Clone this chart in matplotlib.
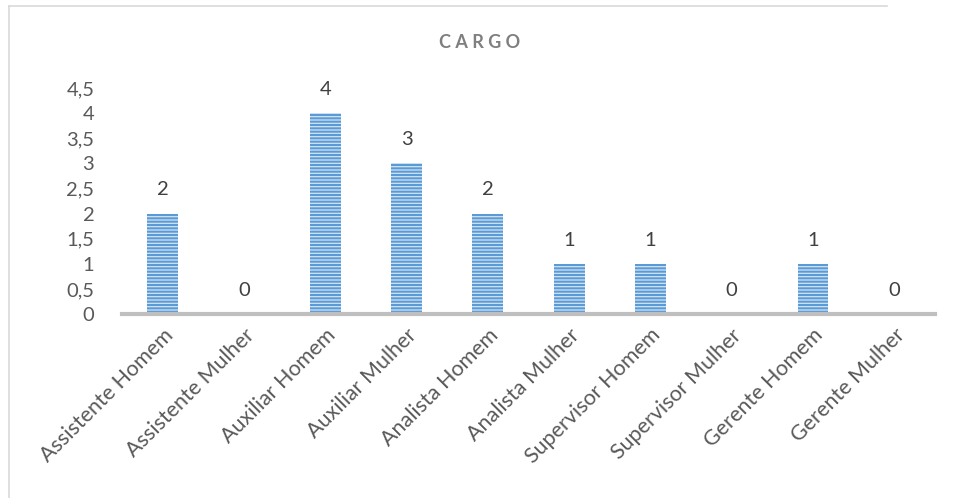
import matplotlib.pyplot as plt
import matplotlib.transforms as mtransforms
from matplotlib.lines import Line2D

categorias = ["Assistente Homem", "Assistente Mulher", "Auxiliar Homem", "Auxiliar Mulher",
              "Analista Homem", "Analista Mulher", "Supervisor Homem", "Supervisor Mulher",
              "Gerente Homem", "Gerente Mulher"]
valores = [2, 0, 4, 3, 2, 1, 1, 0, 1, 0]
y_ticks = [0, 0.5, 1, 1.5, 2, 2.5, 3, 3.5, 4, 4.5]
y_labels = ["0", "0,5", "1", "1,5", "2", "2,5", "3", "3,5", "4", "4,5"]

plt.rcParams['font.family'] = ['Lato', 'DejaVu Sans']
plt.rcParams['hatch.linewidth'] = 1.5

fig = plt.figure(figsize=(9.54, 4.98), dpi=100)
ax = fig.add_axes([0.128, 0.3695, 0.852, 0.4535])

x = list(range(len(categorias)))
ax.bar(x, valores, width=0.38, color='#d3e4f5', edgecolor='#5b9bd5', linewidth=0, hatch='-----')
for xi, v in zip(x, valores):
    ax.annotate(str(v), (xi, v), xytext=(0, 11), textcoords='offset points',
                ha='center', va='bottom', fontsize=14.5, color='#404040')

ax.set_xlim(-0.5, len(categorias) - 0.5)
ax.set_ylim(0, 4.5)
ax.set_yticks(y_ticks)
ax.set_yticklabels(y_labels, fontsize=14.5, color='#595959')
ax.set_xticks(x)
ax.set_xticklabels(categorias, rotation=45, ha='right', rotation_mode='anchor',
                   fontsize=15.5, color='#595959')
offset = mtransforms.ScaledTranslation(0.22, -0.18, fig.dpi_scale_trans)
for lbl in ax.get_xticklabels():
    lbl.set_transform(lbl.get_transform() + offset)
ax.tick_params(axis='x', length=0, pad=8)
ax.tick_params(axis='y', length=0, pad=20)
for s in ['top', 'right', 'left']:
    ax.spines[s].set_visible(False)
ax.spines['bottom'].set_color('#bfbfbf')
ax.spines['bottom'].set_linewidth(3)

fig.text(0.503, 0.915, "C A R G O", ha='center', va='center', fontsize=13,
         fontweight='bold', color='#7f7f7f')

fig.add_artist(Line2D([0.009, 0.009], [0.0, 0.988], color='#d9d9d9', lw=1.2, transform=fig.transFigure))
fig.add_artist(Line2D([0.009, 0.93], [0.988, 0.988], color='#d9d9d9', lw=1.2, transform=fig.transFigure))

fig.savefig('out.png', dpi=100)
